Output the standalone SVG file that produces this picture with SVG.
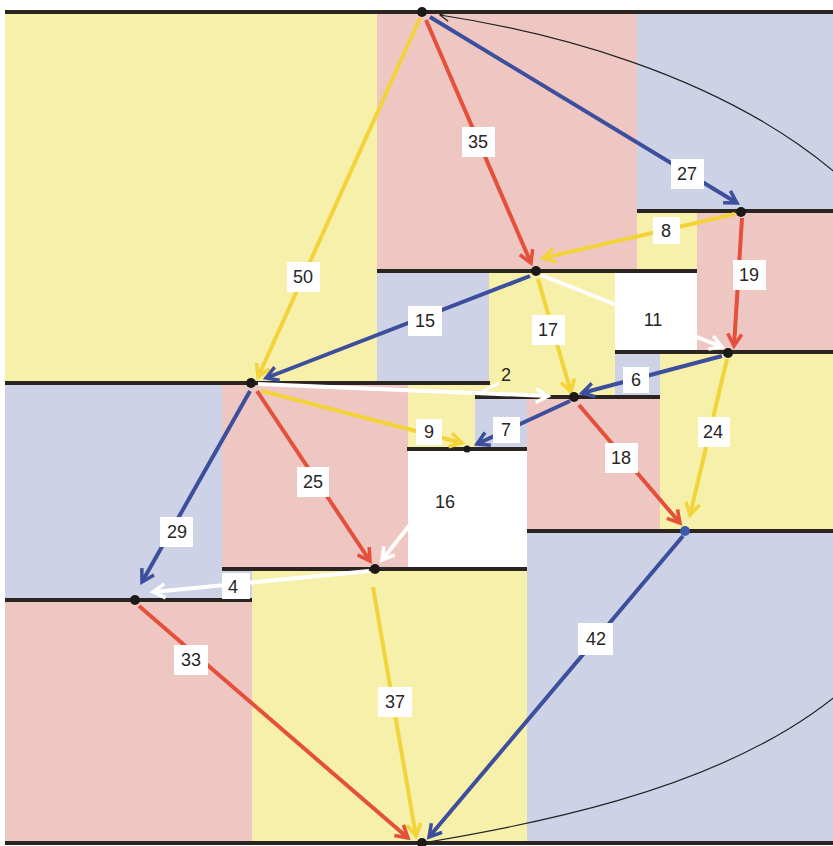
<svg xmlns="http://www.w3.org/2000/svg" width="833" height="846" viewBox="0 0 833 846">
  <style>
    .y { fill: #f7f0aa; }
    .p { fill: #efc7c2; }
    .b { fill: #cdd2e7; }
    .w { fill: #ffffff; }
    .wall { stroke: #2b2522; stroke-width: 4; fill: none; }
    .e { fill: none; stroke-width: 4; stroke-linecap: butt; }
    .er { stroke: #e4503b; marker-end: url(#ar); }
    .eb { stroke: #3d4f9c; marker-end: url(#ab); }
    .ey { stroke: #f2d33a; marker-end: url(#ay); }
    .ew { stroke: #ffffff; marker-end: url(#aw); }
    .node { fill: #1c1a18; }
    .lbox { fill: #ffffff; }
    .lt { font-family: "Liberation Sans", Arial, sans-serif; font-size: 18px; fill: #262626; text-anchor: middle; dominant-baseline: central; }
  </style>
  <defs>
    <marker id="ar" markerUnits="userSpaceOnUse" markerWidth="20" markerHeight="20" refX="15" refY="9" orient="auto">
      <path d="M3,2 L15,9 L3,16" fill="none" stroke="#e4503b" stroke-width="3.5"/>
    </marker>
    <marker id="ab" markerUnits="userSpaceOnUse" markerWidth="20" markerHeight="20" refX="15" refY="9" orient="auto">
      <path d="M3,2 L15,9 L3,16" fill="none" stroke="#3d4f9c" stroke-width="3.5"/>
    </marker>
    <marker id="ay" markerUnits="userSpaceOnUse" markerWidth="20" markerHeight="20" refX="15" refY="9" orient="auto">
      <path d="M3,2 L15,9 L3,16" fill="none" stroke="#f2d33a" stroke-width="3.5"/>
    </marker>
    <marker id="aw" markerUnits="userSpaceOnUse" markerWidth="20" markerHeight="20" refX="15" refY="9" orient="auto">
      <path d="M3,2 L15,9 L3,16" fill="none" stroke="#ffffff" stroke-width="3.5"/>
    </marker>
    <marker id="ak" markerUnits="userSpaceOnUse" markerWidth="16" markerHeight="16" refX="11" refY="7" orient="auto">
      <path d="M2,2 L11,7 L2,12" fill="none" stroke="#222" stroke-width="1.3"/>
    </marker>
  </defs>

  <rect width="833" height="846" fill="#ffffff"/>

  <!-- coloured cells -->
  <g id="cells">
    <rect class="y" x="5" y="12" width="372" height="371"/>
    <rect class="p" x="377" y="12" width="260" height="259"/>
    <rect class="b" x="637" y="12" width="196" height="199"/>
    <rect class="y" x="637" y="211" width="60" height="60"/>
    <rect class="p" x="697" y="211" width="136" height="141"/>
    <rect class="b" x="377" y="271" width="112" height="112"/>
    <rect class="y" x="489" y="271" width="126" height="126"/>
    <rect class="w" x="615" y="271" width="82" height="81"/>
    <rect class="b" x="615" y="352" width="45" height="45"/>
    <rect class="y" x="660" y="352" width="173" height="179"/>
    <rect class="y" x="475" y="383" width="14" height="14"/>
    <rect class="b" x="5" y="383" width="217" height="217"/>
    <rect class="b" x="222" y="569" width="30" height="31"/>
    <rect class="p" x="222" y="383" width="186" height="186"/>
    <rect class="y" x="408" y="383" width="67" height="66"/>
    <rect class="b" x="475" y="397" width="52" height="52"/>
    <rect class="p" x="527" y="397" width="133" height="134"/>
    <rect class="w" x="408" y="449" width="119" height="120"/>
    <rect class="p" x="5" y="600" width="247" height="243"/>
    <rect class="y" x="252" y="569" width="275" height="274"/>
    <rect class="b" x="527" y="531" width="306" height="312"/>
  </g>

  <!-- horizontal walls -->
  <g id="walls">
    <line class="wall" x1="5" y1="12" x2="833" y2="12"/>
    <line class="wall" x1="637" y1="211" x2="833" y2="211"/>
    <line class="wall" x1="377" y1="271" x2="697" y2="271"/>
    <line class="wall" x1="615" y1="352" x2="833" y2="352"/>
    <line class="wall" x1="5" y1="383" x2="490" y2="383"/>
    <line class="wall" x1="475" y1="397" x2="660" y2="397"/>
    <line class="wall" x1="407" y1="449" x2="527" y2="449"/>
    <line class="wall" x1="527" y1="531" x2="833" y2="531"/>
    <line class="wall" x1="222" y1="569" x2="527" y2="569"/>
    <line class="wall" x1="5" y1="600" x2="252" y2="600"/>
    <line class="wall" x1="5" y1="843" x2="833" y2="843"/>
  </g>

  <!-- connectors -->
  <g id="connectors">
    <path d="M428,842 C680,800 960,720 960,430 C960,180 700,55 440,15" fill="none" stroke="#222" stroke-width="1.2" marker-end="url(#ak)"/>
    <line class="e ey" x1="420" y1="18" x2="258" y2="377"/>
    <line class="e er" x1="426" y1="20" x2="531" y2="263"/>
    <line class="e eb" x1="430" y1="17" x2="737" y2="203"/>
    <line class="e ey" x1="735" y1="214" x2="543" y2="258"/>
    <line class="e er" x1="742" y1="218" x2="734" y2="346"/>
    <line class="e ew" x1="541" y1="275" x2="722" y2="347"/>
    <line class="e eb" x1="530" y1="276" x2="266" y2="378"/>
    <line class="e ey" x1="538" y1="279" x2="571" y2="392"/>
    <line class="e eb" x1="722" y1="356" x2="582" y2="393"/>
    <line class="e ey" x1="727" y1="359" x2="690" y2="515"/>
    <line class="e ew" x1="258" y1="384" x2="548" y2="396"/>
    <line x1="482" y1="392" x2="499" y2="383" stroke="#ffffff" stroke-width="3"/>
    <line class="e ey" x1="262" y1="391" x2="462" y2="443"/>
    <line class="e eb" x1="570" y1="401" x2="477" y2="444"/>
    <line class="e er" x1="579" y1="405" x2="680" y2="523"/>
    <line class="e er" x1="257" y1="391" x2="370" y2="561"/>
    <line class="e ew" x1="465" y1="455" x2="382" y2="560"/>
    <line class="e eb" x1="250" y1="391" x2="142" y2="582"/>
    <line class="e ew" x1="369" y1="571" x2="153" y2="592"/>
    <line class="e ey" x1="373" y1="587" x2="416" y2="836"/>
    <line class="e er" x1="139" y1="606" x2="408" y2="838"/>
    <line class="e eb" x1="683" y1="536" x2="429" y2="837"/>
  </g>

  <!-- edge labels -->
  <g id="labels">
    <rect class="lbox" x="287" y="262" width="33" height="30"/><text class="lt" x="303" y="277">50</text>
    <rect class="lbox" x="462" y="127" width="33" height="30"/><text class="lt" x="478" y="142">35</text>
    <rect class="lbox" x="671" y="159" width="33" height="30"/><text class="lt" x="687" y="174">27</text>
    <rect class="lbox" x="653" y="217" width="27" height="27"/><text class="lt" x="666" y="231">8</text>
    <rect class="lbox" x="733" y="260" width="33" height="30"/><text class="lt" x="749" y="275">19</text>
    <rect class="lbox" x="408" y="306" width="34" height="30"/><text class="lt" x="425" y="321">15</text>
    <rect class="lbox" x="532" y="315" width="33" height="30"/><text class="lt" x="548" y="330">17</text>
    <text class="lt" x="653" y="320">11</text>
    <rect class="lbox" x="623" y="367" width="26" height="26"/><text class="lt" x="636" y="380">6</text>
    <text class="lt" x="506" y="375">2</text>
    <rect class="lbox" x="698" y="417" width="32" height="30"/><text class="lt" x="713" y="432">24</text>
    <rect class="lbox" x="416" y="419" width="26" height="26"/><text class="lt" x="429" y="432">9</text>
    <rect class="lbox" x="493" y="417" width="27" height="26"/><text class="lt" x="506" y="430">7</text>
    <rect class="lbox" x="605" y="443" width="33" height="30"/><text class="lt" x="621" y="458">18</text>
    <rect class="lbox" x="297" y="467" width="32" height="30"/><text class="lt" x="313" y="482">25</text>
    <text class="lt" x="445" y="502">16</text>
    <rect class="lbox" x="160" y="517" width="33" height="30"/><text class="lt" x="177" y="532">29</text>
    <rect class="lbox" x="222" y="573" width="28" height="26"/><text class="lt" x="233" y="587">4</text>
    <rect class="lbox" x="174" y="645" width="34" height="30"/><text class="lt" x="191" y="660">33</text>
    <rect class="lbox" x="378" y="687" width="34" height="30"/><text class="lt" x="395" y="702">37</text>
    <rect class="lbox" x="578" y="623" width="35" height="32"/><text class="lt" x="596" y="639">42</text>
  </g>

  <!-- nodes -->
  <g id="node-a"><circle class="node" cx="422" cy="12" r="5"/></g>
  <g id="node-b"><circle class="node" cx="741" cy="212" r="5"/></g>
  <g id="node-c"><circle class="node" cx="536" cy="271" r="5"/></g>
  <g id="node-d"><circle class="node" cx="728" cy="353" r="5"/></g>
  <g id="node-e"><circle class="node" cx="251" cy="383" r="5"/></g>
  <g id="node-f"><circle class="node" cx="574" cy="397" r="5"/></g>
  <g id="node-g"><circle class="node" cx="467" cy="449" r="3.5"/></g>
  <g id="node-h"><circle cx="685" cy="531" r="5" fill="#3d59a8"/></g>
  <g id="node-i"><circle class="node" cx="375" cy="569" r="5"/></g>
  <g id="node-j"><circle class="node" cx="135" cy="600" r="5"/></g>
  <g id="node-k"><circle class="node" cx="422" cy="843" r="5"/></g>
</svg>
